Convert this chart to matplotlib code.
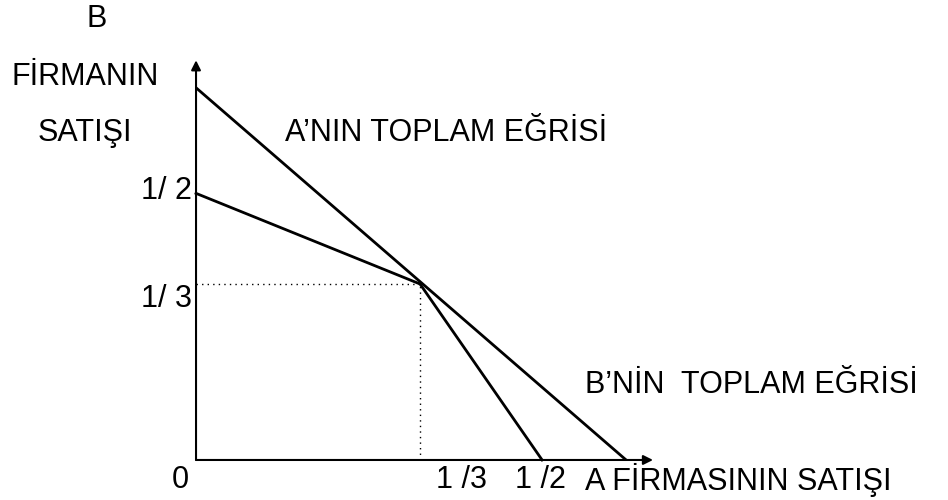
import matplotlib
matplotlib.use("Agg")
import matplotlib.pyplot as plt

plt.rcParams['font.family'] = ['Liberation Sans', 'DejaVu Sans']

# A firmasinin toplam egrisi (tepki egrisi): dogru
a_curve_x = [0.0, 0.64]
a_curve_y = [0.705, 0.0]
# B firmasinin toplam egrisi: kirik dogru, denge noktasinda kiriliyor
b_curve_x = [0.0, 1 / 3, 0.515]
b_curve_y = [0.505, 1 / 3, 0.0]
# denge noktasi
eq_x = 1 / 3
eq_y = 1 / 3

y_labels = ['1/ 2', '1/ 3']
x_labels = ['1 /3', '1 /2']

fig = plt.figure(figsize=(9.48, 5.0), dpi=100)
ax = fig.add_axes([0, 0, 1, 1])
ax.set_xlim(-0.2917, 1.119)
ax.set_ylim(-0.0758, 0.8712)
ax.axis('off')


def px(x, y):
    # piksel -> figure kesri
    return x / 948, 1 - y / 500


fs = 22

# eksenler (oklu)
ax.annotate('', xy=(0.68, 0), xytext=(0, 0),
            arrowprops=dict(arrowstyle='-|>', color='black', lw=1.5,
                            mutation_scale=14, shrinkA=0, shrinkB=0))
ax.annotate('', xy=(0, 0.757), xytext=(0, 0),
            arrowprops=dict(arrowstyle='-|>', color='black', lw=1.5,
                            mutation_scale=14, shrinkA=0, shrinkB=0))

ax.plot(a_curve_x, a_curve_y, color='black', lw=2.0, solid_capstyle='butt')
ax.plot(b_curve_x, b_curve_y, color='black', lw=2.0, solid_joinstyle='miter')

# noktali cizgiler
ax.plot([0, eq_x], [eq_y, eq_y], color='black', lw=1.0, ls=(0, (1, 3)))
ax.plot([eq_x, eq_x], [0, eq_y], color='black', lw=1.0, ls=(0, (1, 3)))

# metinler
fig.text(*px(97, 19), 'B', fontsize=fs, ha='center', va='center')
fig.text(*px(85, 77), 'FİRMANIN', fontsize=fs, ha='center', va='center')
fig.text(*px(85, 133), 'SATIŞI', fontsize=fs, ha='center', va='center')
fig.text(*px(192, 191), y_labels[0], fontsize=fs, ha='right', va='center')
fig.text(*px(192, 299), y_labels[1], fontsize=fs, ha='right', va='center')
fig.text(*px(180, 480), '0', fontsize=fs, ha='center', va='center')
fig.text(*px(461, 480), x_labels[0], fontsize=fs, ha='center', va='center')
fig.text(*px(540, 480), x_labels[1], fontsize=fs, ha='center', va='center')
fig.text(*px(585, 480), 'A FİRMASININ SATIŞI', fontsize=fs, ha='left', va='center')
fig.text(*px(285, 133), 'A’NIN TOPLAM EĞRİSİ', fontsize=fs, ha='left', va='center')
fig.text(*px(585, 385), 'B’NİN  TOPLAM EĞRİSİ', fontsize=fs, ha='left', va='center')

fig.savefig('out.png', dpi=100, facecolor='white')
